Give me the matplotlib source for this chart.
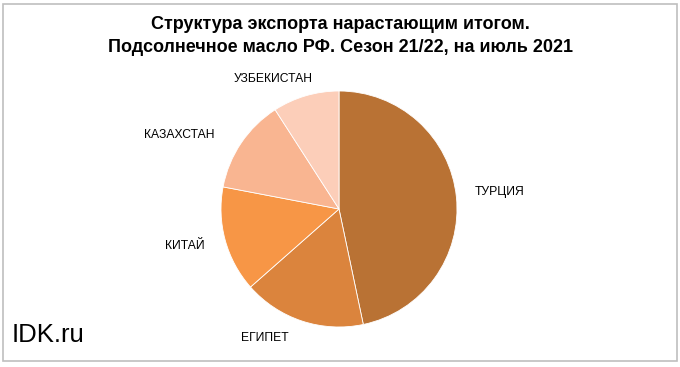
import matplotlib
matplotlib.use("Agg")
import matplotlib.pyplot as plt
import matplotlib.patches as patches

plt.rcParams['font.family'] = ['Liberation Sans', 'DejaVu Sans']

countries = ["ТУРЦИЯ", "ЕГИПЕТ", "КИТАЙ", "КАЗАХСТАН", "УЗБЕКИСТАН"]
shares = [46.7, 16.8, 14.5, 12.9, 9.1]
colors = ["#B97234", "#DB843D", "#F79646", "#F9B591", "#FCCEB9"]
# label anchor points, in pie radius units
label_xy = [(1.36, 0.14), (-0.63, -1.09), (-1.31, -0.31), (-1.35, 0.63), (-0.56, 1.10)]

title = "Структура экспорта нарастающим итогом.\nПодсолнечное масло РФ. Сезон 21/22, на июль 2021"

W, H = 680, 367
fig = plt.figure(figsize=(W / 100, H / 100), dpi=100, facecolor='white')

# frame
fig.add_artist(patches.Rectangle((3 / W, 1 - 361 / H), 674 / W, 357 / H,
                                 transform=fig.transFigure, fill=False,
                                 edgecolor='#BFBFBF', linewidth=1.2))

cx, cy, r = 339, 209, 118
ax = fig.add_axes([(cx - r) / W, (H - cy - r) / H, 2 * r / W, 2 * r / H])
ax.pie(shares, colors=colors, startangle=90, counterclock=False, radius=1,
       wedgeprops=dict(edgecolor='white', linewidth=0.6))
ax.set_xlim(-1, 1)
ax.set_ylim(-1, 1)
ax.set_aspect('equal')
ax.axis('off')

for name, (lx, ly) in zip(countries, label_xy):
    ax.text(lx, ly, name, ha='center', va='center', fontsize=8.7,
            color='#000000', clip_on=False)

fig.text(0.5, 1 - 36 / H, title, ha='center', va='center', fontsize=13,
         fontweight='bold', linespacing=1.4)
fig.text(12 / W, 1 - 335 / H, "IDK.ru", ha='left', va='center', fontsize=18.5)

fig.savefig("out.png", dpi=100, facecolor='white')
